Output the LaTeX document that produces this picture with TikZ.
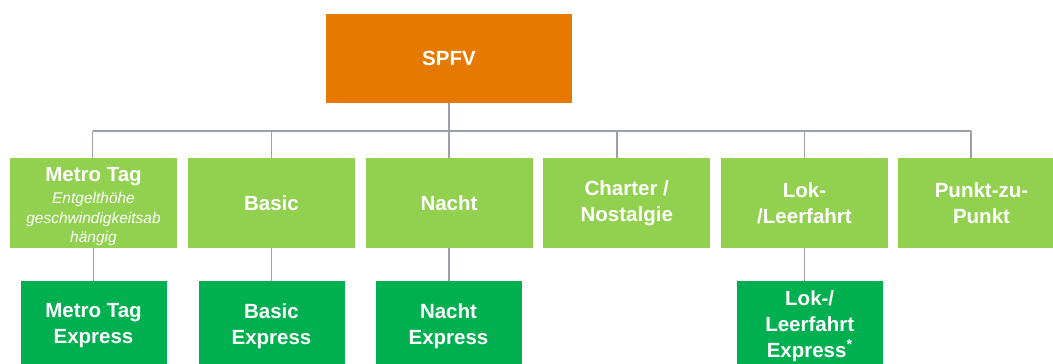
\documentclass[tikz,border=0pt]{standalone}
\usepackage{fontspec}
\setmainfont{Liberation Sans}
\definecolor{spfvorange}{HTML}{E67A00}
\definecolor{lightgr}{HTML}{92D050}
\definecolor{darkgr}{HTML}{00B050}
\definecolor{conngray}{HTML}{9AA1AA}
\newcommand{\notefont}{\fontsize{15.5}{19.5}\selectfont\itshape\mdseries}
\tikzset{
  box/.style={inner sep=0pt, align=center, text=white,
    font=\fontsize{20.5}{26}\selectfont\bfseries},
  topbox/.style={box, fill=spfvorange, minimum width=246pt, minimum height=89pt},
  midbox/.style={box, fill=lightgr, minimum width=167pt, minimum height=89.5pt},
  lowbox/.style={box, fill=darkgr, minimum width=146pt, minimum height=90pt},
  conn/.style={draw=conngray, line width=1.3pt}
}
\begin{document}
\begin{tikzpicture}[x=1pt,y=-1pt]
\useasboundingbox (0,0) rectangle (1053,364);
\clip (0,0) rectangle (1053,364);
\fill[white] (0,0) rectangle (1053,364);

\node[topbox] (spfv) at (449,58.5) {SPFV};

\node[midbox] (metro) at (93.5,203) {\mbox{}\\[-5pt]Metro Tag\\[-3.3pt]{\notefont Entgelthöhe}\\[-6.7pt]{\notefont geschwindigkeitsab}\\[-6.7pt]{\notefont hängig}};
\node[midbox] (basic) at (271.5,203) {Basic};
\node[midbox] (nacht) at (449,203) {Nacht};
\node[midbox] (charter) at (626.8,203) {Charter /\\Nostalgie};
\node[midbox] (lok) at (804.5,203) {Lok-\\/Leerfahrt};
\node[midbox] (punkt) at (981.5,203) {Punkt-zu-\\Punkt};

\node[lowbox] (metroex) at (93.5,326) {Metro Tag\\Express};
\node[lowbox] (basicex) at (271.5,326) {Basic\\Express};
\node[lowbox] (nachtex) at (448.5,326) {Nacht\\Express};
\node[lowbox] (lokex) at (809.7,326) {Lok-/\\Leerfahrt\\Express\textsuperscript{*}};

\coordinate (busL) at (92.7,131);
\coordinate (busR) at (971,131);
\draw[conn] (busL) -- (busR);
\draw[conn] (spfv.south) -- (nacht.north);
\draw[conn] (busL) -- (busL |- metro.north);
\draw[conn] (basic.north |- busL) -- (basic.north);
\draw[conn] ([xshift=-9.8pt]charter.north |- busL) -- ([xshift=-9.8pt]charter.north);
\draw[conn] (lok.north |- busL) -- (lok.north);
\draw[conn] (busR) -- (busR |- punkt.north);

\draw[conn] (metro.south) -- (metroex.north);
\draw[conn] (basic.south) -- (basicex.north);
\draw[conn] (nacht.south) -- (nacht.south |- nachtex.north);
\draw[conn] (lok.south) -- (lok.south |- lokex.north);
\end{tikzpicture}
\end{document}
